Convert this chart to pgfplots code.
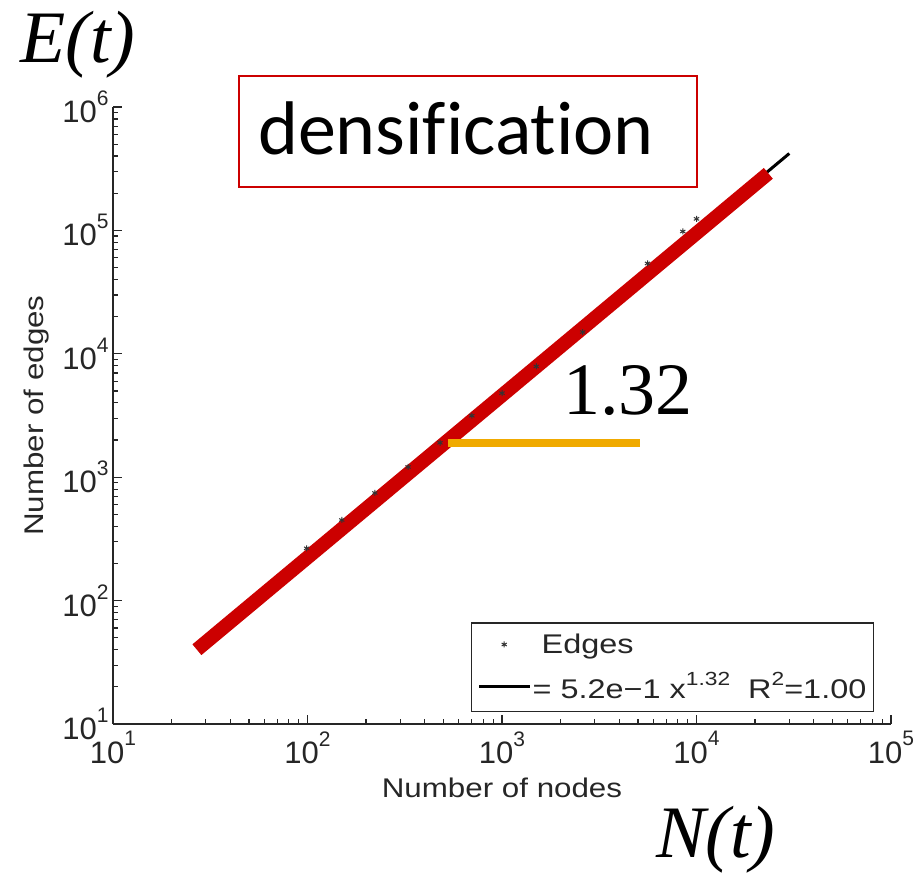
\documentclass[border=0pt]{standalone}
\usepackage{pgfplots}
\pgfplotsset{compat=1.18}
\usepackage{fontspec}
\setmainfont{Liberation Sans}
\newfontfamily\timesfont{Liberation Serif}
\newfontfamily\calfont[Ligatures=NoCommon]{Carlito}
\definecolor{annred}{RGB}{204,0,0}
\definecolor{annorange}{RGB}{240,170,0}
\newcommand{\tp}[1]{10\raisebox{0.55em}{\fontsize{21}{21}\selectfont #1}}
\newcommand{\sps}[1]{\raisebox{0.5em}{\fontsize{19}{19}\selectfont #1}}
\newcommand{\wide}[1]{\scalebox{1.16}[1]{#1}}
\newcommand{\wider}[1]{\scalebox{1.2}[1]{#1}}

\begin{document}
\begin{tikzpicture}
\useasboundingbox (0,0) rectangle (916pt,875pt);
\begin{axis}[
  at={(113pt,151pt)}, anchor=south west,
  scale only axis, width=778pt, height=617pt,
  xmode=log, ymode=log,
  xmin=10, xmax=100000, ymin=10, ymax=1000000,
  axis lines=left, axis line style={-, line width=1.6pt, black!85},
  tick align=inside,
  major tick length=9pt, minor tick length=5pt,
  every tick/.style={black!85, line width=1.2pt},
  xtick={10,100,1000,10000,100000},
  xticklabels={\tp{1},\tp{2},\tp{3},\tp{4},\tp{5}},
  ytick={10,100,1000,10000,100000,1000000},
  yticklabels={\tp{1},\tp{2},\tp{3},\tp{4},\tp{5},\tp{6}},
  minor xtick={20,30,40,50,60,70,80,90,200,300,400,500,600,700,800,900,2000,3000,4000,5000,6000,7000,8000,9000,20000,30000,40000,50000,60000,70000,80000,90000},
  minor ytick={20,30,40,50,60,70,80,90,200,300,400,500,600,700,800,900,2000,3000,4000,5000,6000,7000,8000,9000,20000,30000,40000,50000,60000,70000,80000,90000,200000,300000,400000,500000,600000,700000,800000,900000},
  ticklabel style={font=\fontsize{31}{33}\selectfont, text=black!85},
  xticklabel style={anchor=north, yshift=-4pt},
  yticklabel style={anchor=east, xshift=-1pt},
  xlabel={\wide{Number of nodes}}, ylabel={\wide{Number of edges}},
  label style={font=\fontsize{27}{30}\selectfont, text=black!85},
  xlabel style={at={(axis description cs:0.5,0)}, anchor=center, yshift=-64pt},
  ylabel style={at={(axis description cs:-0.0977,0.5)}, anchor=center},
  legend style={at={(rel axis cs:1,0)}, anchor=south east, xshift=-17pt, yshift=12pt,
    font=\fontsize{27}{30}\selectfont, draw=black!85, line width=1.4pt,
    inner xsep=6pt, inner ysep=10pt, row sep=15pt,
    nodes={inner sep=1pt, text=black!85},
    /tikz/every even column/.append style={column sep=2pt}},
  legend cell align=left,
]
\addplot[only marks, mark=asterisk, mark size=3pt, black!80, mark options={line width=1pt},
  legend image code/.code={\draw[black!80, line width=1pt, mark=asterisk, mark size=3pt] plot coordinates {(25pt,0pt)};}]
  coordinates {(99,265) (150,450) (222,745) (329,1210) (480,1900) (700,3150) (1000,4800) (1500,7900) (2600,15000) (5600,54000) (8500,98000) (10000,124000)};
\addlegendentry{\wider{\ Edges}}
\addplot[black, line width=3pt,
  legend image code/.code={\draw[black, line width=3pt] (0pt,0pt) -- (51pt,0pt);}]
  coordinates {(100,227) (30000,420000)};
\addlegendentry{\wider{= 5.2e\textminus 1 x\sps{1.32}\ \ R\sps{2}=1.00}}
\addplot[annred, line width=14pt, forget plot] coordinates {(27,40) (23400,290000)};
\addplot[annorange, line width=8pt, forget plot] coordinates {(527,1890) (5100,1890)};
\end{axis}
\draw[annred, line width=2pt] (239pt,688pt) rectangle (697pt,799pt);
\node[anchor=base west, inner sep=0pt, font=\calfont\fontsize{76}{80}\selectfont] at (258pt,720pt) {densification};
\node[anchor=base west, inner sep=0pt, font=\timesfont\itshape\fontsize{74}{80}\selectfont] at (20pt,812pt) {E(t)};
\node[anchor=base west, inner sep=0pt, font=\timesfont\itshape\fontsize{74}{80}\selectfont] at (656pt,17pt) {N(t)};
\node[anchor=base west, inner sep=0pt, font=\timesfont\fontsize{74}{80}\selectfont] at (563pt,460pt) {1.32};
\end{tikzpicture}
\end{document}
